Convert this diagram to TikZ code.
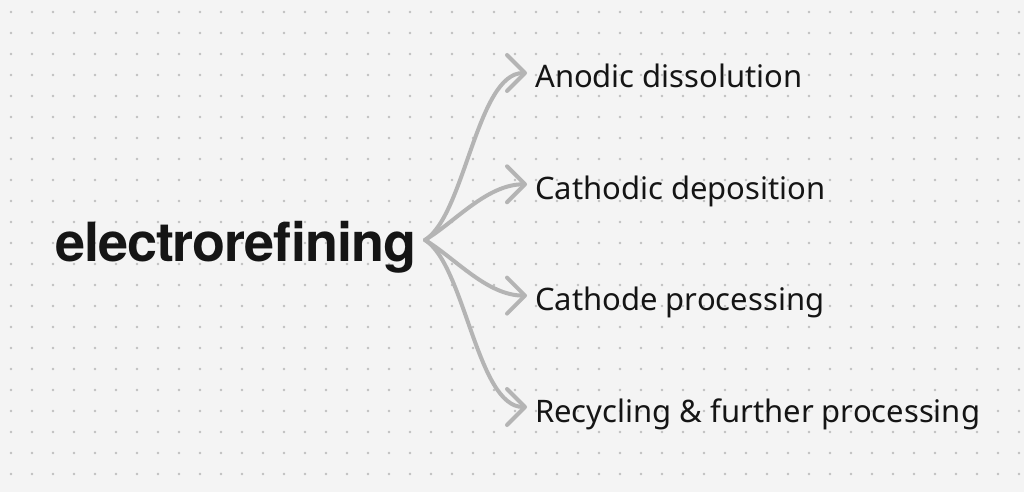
\documentclass[tikz,border=0pt]{standalone}
\usepackage{fontspec}
\setmainfont{Noto Sans}
\newfontfamily\titlefont{TeX Gyre Heros}[LetterSpace=-2]
\usetikzlibrary{arrows.meta}
\definecolor{paper}{HTML}{F4F4F4}
\definecolor{griddot}{HTML}{C0C0C0}
\definecolor{fanline}{HTML}{B4B4B4}
\definecolor{ink}{HTML}{151515}
\begin{document}
\begin{tikzpicture}[x=1pt,y=-1pt,
    branch/.style={line width=4pt,color=fanline,line cap=round,
      -{Straight Barb[length=18pt,width=36pt,round]}},
    leaf/.style={anchor=west,inner xsep=8pt,inner ysep=0pt,text height=30pt,
      text depth=0pt,text=ink,font=\fontsize{31}{37}\selectfont}]
  \fill[paper] (0,0) rectangle (1024,492);
  \useasboundingbox (0,0) rectangle (1024,492);
  % dotted background
  \foreach \i in {0,...,48}
    \foreach \j in {0,...,22}
      \fill[griddot] (11+21*\i,12+21*\j) circle (1.3);
  \node[anchor=base west,inner sep=0pt,text=ink,
    font=\titlefont\bfseries\fontsize{54}{62}\selectfont]
    (title) at (55,261) {electrorefining};
  \coordinate (hub) at (425,240);
  \node[leaf] (anodic) at (527,73) {Anodic dissolution};
  \node[leaf] (deposit) at (527,184.3) {Cathodic deposition};
  \node[leaf] (cathode) at (527,295.6) {Cathode processing};
  \node[leaf] (recycle) at (527,407) {Recycling \& further processing};
  \draw[branch] (hub) .. controls +(40,-25) and +(-50,0) .. (anodic.west);
  \draw[branch] (hub) .. controls +(30,-18) and +(-40,0) .. (deposit.west);
  \draw[branch] (hub) .. controls +(30,18) and +(-40,0) .. (cathode.west);
  \draw[branch] (hub) .. controls +(40,25) and +(-50,0) .. (recycle.west);
\end{tikzpicture}
\end{document}
